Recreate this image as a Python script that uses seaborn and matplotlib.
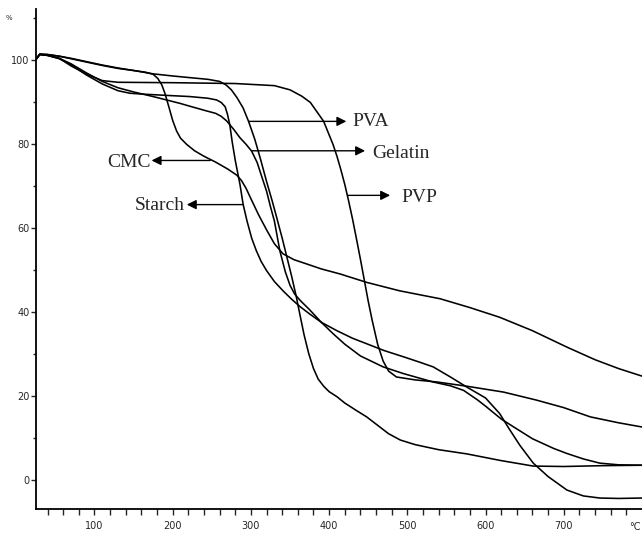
import numpy as np
import pandas as pd
import matplotlib
matplotlib.use("Agg")
import matplotlib.pyplot as plt
import seaborn as sns

# TGA curves (temperature in °C, mass in %)
cmc_temp = [25, 30, 40, 55, 70, 90, 110, 130, 150, 165, 175, 181, 186, 190, 195, 200, 205, 210, 218, 228,
            240, 255, 270, 282, 288, 294, 300, 310, 320, 330, 341, 355, 371, 390, 414, 448, 490, 542, 580,
            618, 660, 704, 740, 770, 800]
cmc_mass = [100, 101.3, 101.2, 100.8, 100.2, 99.4, 98.6, 97.9, 97.4, 97.0, 96.5, 95.5, 94, 92, 88.8, 85.5,
            83, 81.3, 79.8, 78.3, 77, 75.6, 74, 72.5, 71.2, 69.3, 66.9, 63, 59.5, 56.2, 53.8, 52.4, 51.4,
            50.2, 49, 47, 45, 43.1, 41, 38.7, 35.5, 31.6, 28.6, 26.5, 24.7]

pva_temp = [25, 30, 40, 55, 70, 90, 110, 130, 150, 175, 200, 222, 245, 260, 268, 275, 282, 290, 297, 305,
            312, 320, 327, 333, 340, 346, 352, 358, 363, 368, 374, 380, 386, 393, 400, 410, 420, 435, 448,
            462, 476, 491, 510, 540, 576, 620, 661, 700, 750, 800]
pva_mass = [100, 101.3, 101.2, 100.8, 100.3, 99.5, 98.7, 98, 97.4, 96.6, 96.1, 95.7, 95.3, 94.8, 94, 92.8,
            91, 88.5, 85.3, 81, 76.5, 71, 66.5, 62.4, 57.5, 53, 48.5, 43.6, 39, 34.5, 30, 26.5, 24, 22.3,
            21, 19.8, 18.3, 16.5, 15, 13, 11, 9.5, 8.4, 7.2, 6.2, 4.6, 3.3, 3.2, 3.4, 3.5]

gelatin_temp = [25, 30, 40, 55, 70, 90, 110, 130, 150, 175, 209, 222, 243, 255, 262, 269, 278, 286, 294,
                301, 308, 315, 320, 325, 330, 337, 344, 350, 356, 363, 375, 390, 405, 420, 440, 469, 495,
                533, 555, 572, 590, 601, 620, 636, 660, 687, 704, 725, 746, 770, 800]
gelatin_mass = [100, 101.2, 101, 100.3, 99, 96.8, 94.8, 93.3, 92.3, 91.2, 89.6, 88.9, 87.8, 87.2, 86.5,
                85.4, 83.4, 81.4, 79.8, 78.2, 75.5, 71.5, 68.7, 65, 61.6, 54.5, 49.5, 46.3, 44.2, 42.7,
                40.5, 37.5, 34.8, 32.3, 29.5, 26.9, 25.3, 23.3, 22.4, 21.3, 19, 17.4, 14.5, 12.6, 9.8,
                7.5, 6.3, 5, 4, 3.6, 3.5]

starch_temp = [25, 30, 40, 55, 70, 90, 110, 130, 145, 160, 190, 222, 245, 256, 262, 267, 270, 273, 276,
               280, 286, 290, 295, 301, 307, 313, 320, 330, 341, 352, 363, 375, 390, 410, 430, 448, 470,
               495, 516, 533, 555, 576, 600, 618, 630, 644, 661, 680, 704, 725, 746, 770, 800]
starch_mass = [100, 101.2, 101, 100.2, 98.8, 96.3, 94.2, 92.6, 92, 91.8, 91.5, 91.2, 90.8, 90.4, 89.8,
               88.8, 87, 84.5, 80.5, 76, 70.3, 65.6, 61.6, 57.5, 54.5, 52, 49.8, 47.2, 45, 43, 41.2, 39.5,
               37.5, 35.5, 33.7, 32.4, 30.8, 29.3, 28, 26.9, 24.5, 22.1, 19.5, 15.8, 12.2, 8.2, 4, 0.8,
               -2.4, -3.8, -4.3, -4.4, -4.3]

pvp_temp = [25, 30, 40, 55, 70, 90, 110, 130, 200, 280, 330, 350, 365, 376, 393, 405, 410, 415, 420, 425,
            430, 435, 440, 445, 450, 455, 462, 469, 476, 486, 510, 538, 576, 623, 665, 700, 734, 770, 800]
pvp_mass = [100, 101.2, 101, 100.3, 98.5, 96.5, 95, 94.6, 94.5, 94.3, 93.8, 92.8, 91.3, 89.8, 85.3, 79.8,
            77, 73.8, 70.3, 66.3, 62, 57.3, 52.5, 47.5, 42.5, 38, 32.3, 28.3, 25.9, 24.5, 23.8, 23.3,
            22.3, 20.9, 19, 17.2, 15, 13.6, 12.6]

materials = ["CMC", "Starch", "PVA", "Gelatin", "PVP"]
y_ticks = [0, 20, 40, 60, 80, 100]
x_ticks = [100, 200, 300, 400, 500, 600, 700]

series = {
    "CMC": (cmc_temp, cmc_mass),
    "PVA": (pva_temp, pva_mass),
    "Gelatin": (gelatin_temp, gelatin_mass),
    "Starch": (starch_temp, starch_mass),
    "PVP": (pvp_temp, pvp_mass),
}
df = pd.concat(
    [pd.DataFrame({"temp": t, "mass": m, "material": name}) for name, (t, m) in series.items()],
    ignore_index=True,
)

sns.set_style("ticks")
plt.rcParams["font.family"] = ["DejaVu Sans"]

fig = plt.figure(figsize=(6.42, 5.37), dpi=100)
ax = fig.add_axes([0.0558, 0.053, 0.9442, 0.930])

sns.lineplot(data=df, x="temp", y="mass", hue="material", units="material", estimator=None,
             sort=False, palette={m: "black" for m in materials}, legend=False, lw=1.15, ax=ax)

ax.set_xlim(25, 800)
ax.set_ylim(-6.8, 112)
ax.set_xlabel("")
ax.set_ylabel("")
for side in ["top", "right"]:
    ax.spines[side].set_visible(False)
for side in ["left", "bottom"]:
    ax.spines[side].set_linewidth(1.3)
    ax.spines[side].set_color("black")

ax.set_xticks(x_ticks)
ax.set_xticks(np.arange(40, 781, 20), minor=True)
ax.set_yticks(y_ticks)
ax.set_yticks(np.arange(10, 111, 20), minor=True)
ax.tick_params(axis="x", which="both", length=4, width=1, direction="out", labelsize=7, pad=5)
ax.tick_params(axis="y", which="major", length=3.5, width=1, direction="out", labelsize=7, pad=1)
ax.tick_params(axis="y", which="minor", length=2.5, width=1, direction="out")

# little unit marks at the ends of the axes
ax.text(791, -0.037, "°C", transform=ax.get_xaxis_transform(), ha="center", va="center", fontsize=7)
ax.text(-0.045, 110, "%", transform=ax.get_yaxis_transform(), ha="center", va="center", fontsize=5)

# arrows pointing from the curves to the labels
serif = "Liberation Serif"
arrow = dict(arrowstyle="-|>", color="black", lw=1.0, mutation_scale=14, shrinkA=0, shrinkB=0)
notes = [
    ("PVA", (297, 85.3), (422, 85.3), (430, 85.3), "left"),
    ("Gelatin", (301, 78.3), (446, 78.3), (455, 77.6), "left"),
    ("PVP", (424, 67.7), (478, 67.7), (492, 67.2), "left"),
    ("CMC", (248, 76.0), (173, 76.0), (172, 75.6), "right"),
    ("Starch", (290, 65.5), (218, 65.5), (215, 65.3), "right"),
]
for label, start, tip, text_pos, align in notes:
    ax.annotate("", xy=tip, xytext=start, arrowprops=arrow)
    ax.text(text_pos[0], text_pos[1], label, ha=align, va="center", fontsize=14, family=serif)

fig.savefig("out.png", dpi=100)
